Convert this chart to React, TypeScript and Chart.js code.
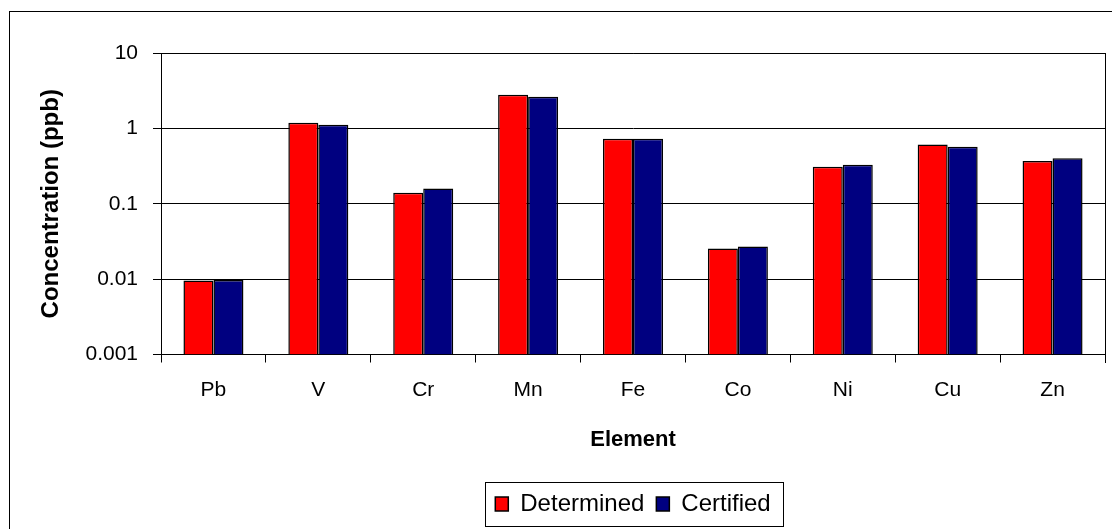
import React, { useEffect, useRef } from "react";
import { Chart, registerables } from "chart.js";

Chart.register(...registerables);

const categories = ["Pb", "V", "Cr", "Mn", "Fe", "Co", "Ni", "Cu", "Zn"];
const determined = [0.0096, 1.19, 0.14, 2.79, 0.73, 0.0254, 0.31, 0.61, 0.37];
const certified = [0.0097, 1.12, 0.159, 2.63, 0.73, 0.027, 0.33, 0.57, 0.4];
const yTickValues = [0.001, 0.01, 0.1, 1, 10];
const yTickLabels = ["0.001", "0.01", "0.1", "1", "10"];
const seriesNames = ["Determined", "Certified"];

const FONT = "'Liberation Sans', Arial, sans-serif";

const framePlugin = {
  id: "frame",
  beforeDraw(chart: any) {
    const ctx = chart.ctx;
    ctx.save();
    ctx.fillStyle = "#ffffff";
    ctx.fillRect(0, 0, chart.width, chart.height);
    ctx.strokeStyle = "#000000";
    ctx.lineWidth = 1;
    ctx.strokeRect(9.5, 11.5, 1200, 600);
    ctx.restore();
  },
  afterDraw(chart: any) {
    const ctx = chart.ctx;
    const a = chart.chartArea;
    ctx.save();
    ctx.strokeStyle = "#000000";
    ctx.lineWidth = 1;
    ctx.beginPath();
    ctx.moveTo(Math.round(a.right) + 0.5, Math.round(a.top));
    ctx.lineTo(Math.round(a.right) + 0.5, Math.round(a.bottom) + 8);
    ctx.moveTo(Math.round(a.left), Math.round(a.top) + 0.5);
    ctx.lineTo(Math.round(a.right) + 1, Math.round(a.top) + 0.5);
    ctx.stroke();
    const lg = chart.legend;
    if (lg && lg.legendHitBoxes && lg.legendHitBoxes.length) {
      const hb = lg.legendHitBoxes;
      const first = hb[0];
      const last = hb[hb.length - 1];
      const x0 = Math.round(first.left - 10) + 0.5;
      const x1 = Math.round(last.left + last.width + 12) + 0.5;
      const y0 = Math.round(first.top - 10) + 0.5;
      const y1 = Math.round(first.top + first.height + 10) + 0.5;
      ctx.strokeRect(x0, y0, x1 - x0, y1 - y0);
    }
    ctx.restore();
  },
};

export default function App() {
  const ref = useRef<HTMLCanvasElement | null>(null);
  useEffect(() => {
    if (!ref.current) return;
    const chart = new Chart(ref.current, {
      type: "bar",
      data: {
        labels: categories,
        datasets: [
          {
            label: seriesNames[0],
            data: determined,
            backgroundColor: "#FF0000",
            borderColor: "#000000",
            borderWidth: 1.5,
          },
          {
            label: seriesNames[1],
            data: certified,
            backgroundColor: "#000080",
            borderColor: "#000000",
            borderWidth: 1.5,
          },
        ],
      },
      plugins: [framePlugin],
      options: {
        responsive: false,
        animation: false,
        devicePixelRatio: 1,
        layout: { padding: { left: 0, top: 53, right: 7, bottom: 3 } },
        datasets: {
          bar: { categoryPercentage: 0.572, barPercentage: 1 },
        },
        plugins: {
          tooltip: { enabled: false },
          legend: {
            display: true,
            position: "bottom",
            fullSize: false,
            labels: {
              boxWidth: 13,
              boxHeight: 14,
              padding: 12,
              color: "#000000",
              font: { family: FONT, size: 24 },
            },
          },
        },
        scales: {
          x: {
            type: "category",
            offset: true,
            afterFit: (s: any) => {
              s.height = 125.5;
            },
            grid: {
              display: true,
              offset: true,
              drawOnChartArea: false,
              drawTicks: true,
              tickLength: 8,
              color: "#000000",
              lineWidth: 1,
            },
            border: { display: true, color: "#000000", width: 1 },
            ticks: {
              color: "#000000",
              padding: 15,
              maxRotation: 0,
              font: { family: FONT, size: 21 },
            },
            title: {
              display: true,
              text: "Element",
              color: "#000000",
              font: { family: FONT, size: 22, weight: "bold" },
              padding: { top: 0, bottom: 26.8 },
            },
          },
          y: {
            type: "logarithmic",
            min: 0.001,
            max: 10,
            afterFit: (s: any) => {
              s.width = 161;
            },
            afterBuildTicks: (s: any) => {
              s.ticks = yTickValues.map((v) => ({ value: v, major: true }));
            },
            grid: {
              display: true,
              drawOnChartArea: true,
              drawTicks: true,
              tickLength: 8,
              color: "#000000",
              lineWidth: 1,
            },
            border: { display: true, color: "#000000", width: 1 },
            ticks: {
              color: "#000000",
              padding: 15,
              font: { family: FONT, size: 21 },
              callback: (value: any) => {
                const i = yTickValues.findIndex((v) => Math.abs(v - Number(value)) < v * 1e-6);
                return i >= 0 ? yTickLabels[i] : "";
              },
            },
            title: {
              display: true,
              text: "Concentration (ppb)",
              color: "#000000",
              font: { family: FONT, size: 24, weight: "bold" },
              padding: { top: 36.6, bottom: 0 },
            },
          },
        },
      },
    } as any);
    return () => chart.destroy();
  }, []);
  return (
    <div style={{ position: "fixed", left: 0, top: 0, width: 1112, height: 529, background: "#fff" }}>
      <canvas ref={ref} width={1112} height={529} style={{ display: "block" }} />
    </div>
  );
}
